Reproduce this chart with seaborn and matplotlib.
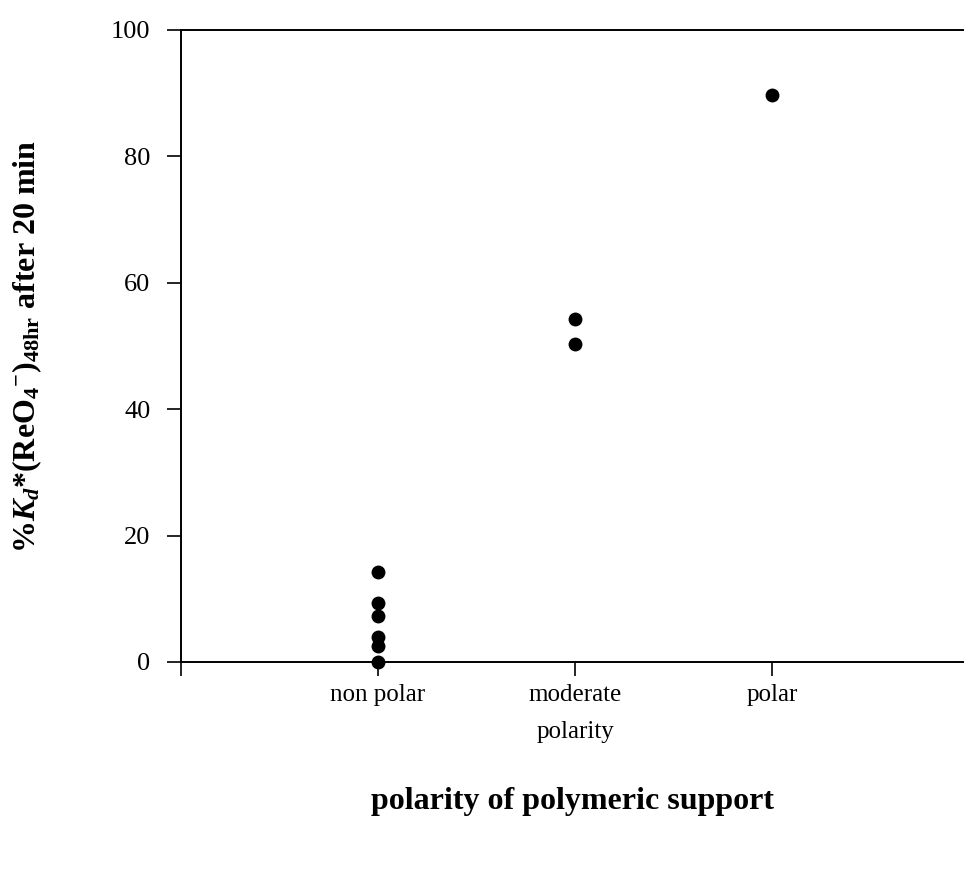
import matplotlib
matplotlib.use("Agg")
import matplotlib.pyplot as plt
import seaborn as sns
import pandas as pd

# Measured partition ratios grouped by support polarity
categories = ["non polar", "moderate\npolarity", "polar"]
nonpolar_vals = [14.2, 9.3, 7.3, 4.0, 2.5, 0.0]
moderate_vals = [54.2, 50.3]
polar_vals = [89.7]
y_ticks = [0, 20, 40, 60, 80, 100]

df = pd.DataFrame({
    "polarity": [categories[0]] * len(nonpolar_vals)
    + [categories[1]] * len(moderate_vals)
    + [categories[2]] * len(polar_vals),
    "kd": nonpolar_vals + moderate_vals + polar_vals,
})

sns.set_theme(style="white", rc={
    "text.color": "black",
    "axes.labelcolor": "black",
    "xtick.color": "black",
    "ytick.color": "black",
    "axes.edgecolor": "black",
})
plt.rcParams["font.family"] = ["Liberation Serif", "DejaVu Serif"]
plt.rcParams["mathtext.fontset"] = "custom"
plt.rcParams["mathtext.rm"] = "Liberation Serif:bold"
plt.rcParams["mathtext.it"] = "Liberation Serif:bold:italic"
plt.rcParams["mathtext.bf"] = "Liberation Serif:bold"

fig = plt.figure(figsize=(9.65, 8.74), dpi=100)
ax = fig.add_axes([0.1876, 0.2426, 0.8104, 0.7231])

sns.stripplot(data=df, x="polarity", y="kd", order=categories, jitter=False,
              color="black", size=10, ax=ax, zorder=3, clip_on=False)

ax.set_xlim(-1, 2.97)
ax.set_ylim(0, 100)
ax.set_yticks(y_ticks)
ax.set_yticklabels([str(v) for v in y_ticks], fontsize=19)
ax.set_xticks([-1, 0, 1, 2])
ax.set_xticklabels([""] + categories, fontsize=18, linespacing=1.85)

for side in ["left", "bottom", "top"]:
    ax.spines[side].set_visible(True)
    ax.spines[side].set_color("black")
    ax.spines[side].set_linewidth(1.4)
ax.spines["right"].set_visible(False)

ax.tick_params(axis="both", which="major", direction="out", length=10,
               width=1.2, color="black", bottom=True, left=True)
ax.tick_params(axis="x", pad=6)
ax.tick_params(axis="y", pad=12)

ax.set_xlabel("polarity of polymeric support", fontsize=23, fontweight="bold",
              labelpad=32)
ax.set_ylabel(r"%$K_d$*(ReO$_4$$^{-}$)$_{\mathrm{48hr}}$ after 20 min",
              fontsize=23, fontweight="bold", labelpad=48)

fig.savefig("out.png", dpi=100, facecolor="white")
